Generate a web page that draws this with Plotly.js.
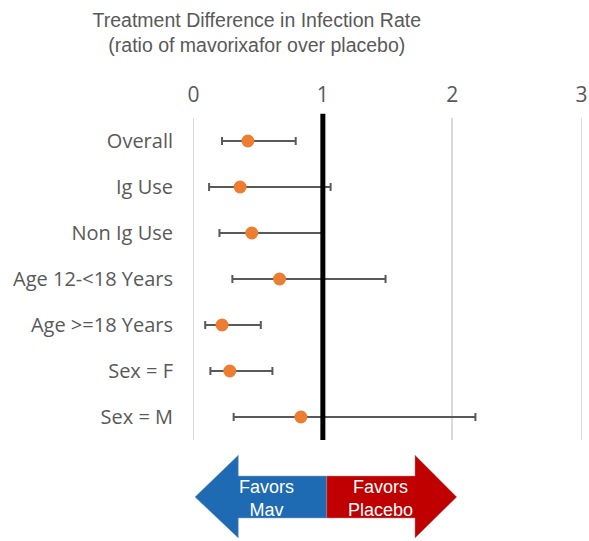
<!DOCTYPE html>
<html>
<head>
<meta charset="utf-8">
<script src="https://cdn.plot.ly/plotly-3.0.1.min.js"></script>
<style>html,body{margin:0;padding:0;background:#fff;}</style>
</head>
<body>
<div id="chart" style="width:589px;height:541px;"></div>
<script>
const categories = ["Overall", "Ig Use", "Non Ig Use", "Age 12-<18 Years", "Age >=18 Years", "Sex = F", "Sex = M"];
const ratio = [0.42, 0.36, 0.45, 0.665, 0.22, 0.28, 0.83];
const lowerCI = [0.22, 0.12, 0.20, 0.30, 0.09, 0.13, 0.31];
const upperCI = [0.79, 1.06, 1.00, 1.485, 0.52, 0.61, 2.18];
const xTicks = [0, 1, 2, 3];
const referenceValue = 1;

const errPlus = ratio.map((v, i) => upperCI[i] - v);
const errMinus = ratio.map((v, i) => v - lowerCI[i]);

const trace = {
  type: "scatter",
  mode: "markers",
  x: ratio,
  y: categories,
  marker: {color: "#ED7D31", size: 13},
  error_x: {
    type: "data", symmetric: false,
    array: errPlus, arrayminus: errMinus,
    color: "#595959", thickness: 2, width: 4
  },
  hoverinfo: "x+y",
  showlegend: false
};

// plot area spans x range [-0.02, 3.02]; arrow geometry in paper coords
function px2paperX(px) { return (px - 191) / 393; }
const yHT = -0.047, yBT = -0.112, yC = -0.177, yBB = -0.242, yHB = -0.304;
const xLT = px2paperX(195), xLB = px2paperX(238.3), xS = px2paperX(326.7), xRB = px2paperX(415), xRT = px2paperX(456.7);
const bluePath = `M ${xLT},${yC} L ${xLB},${yHT} L ${xLB},${yBT} L ${xS},${yBT} L ${xS},${yBB} L ${xLB},${yBB} L ${xLB},${yHB} Z`;
const redPath = `M ${xRT},${yC} L ${xRB},${yHT} L ${xRB},${yBT} L ${xS},${yBT} L ${xS},${yBB} L ${xRB},${yBB} L ${xRB},${yHB} Z`;

const layout = {
  width: 589, height: 541,
  margin: {l: 191, r: 5, t: 118, b: 101},
  paper_bgcolor: "#ffffff",
  plot_bgcolor: "#ffffff",
  title: {
    text: "Treatment Difference in Infection Rate<br>(ratio of mavorixafor over placebo)",
    x: 0.436, xref: "container", xanchor: "center",
    y: 0.951, yref: "container", yanchor: "middle",
    font: {family: "Liberation Sans, Arial, sans-serif", size: 19.5, color: "#595959"}
  },
  xaxis: {
    side: "top",
    range: [-0.02, 3.02],
    tickvals: xTicks,
    ticktext: xTicks.map(String),
    showgrid: true, gridcolor: "#d9d9d9", gridwidth: 1.5,
    zeroline: false, showline: false,
    ticks: "", ticklabelstandoff: 11,
    tickfont: {family: "Open Sans, sans-serif", size: 21, color: "#595959"},
    fixedrange: true
  },
  yaxis: {
    type: "category",
    categoryorder: "array", categoryarray: categories,
    autorange: false, range: [6.5, -0.5],
    showgrid: false, zeroline: false, showline: false,
    ticks: "", ticklabelstandoff: 17,
    tickfont: {family: "Open Sans, sans-serif", size: 20, color: "#595959"},
    fixedrange: true
  },
  shapes: [
    {type: "line", xref: "x", yref: "paper", x0: referenceValue, x1: referenceValue, y0: 0, y1: 1.013,
     line: {color: "#000000", width: 5}, layer: "above"},
    {type: "path", xref: "paper", yref: "paper", path: bluePath, fillcolor: "#1f6bb3", line: {color: "#8a9fb5", width: 0.5}},
    {type: "path", xref: "paper", yref: "paper", path: redPath, fillcolor: "#c00000", line: {color: "#b08080", width: 0.5}}
  ],
  annotations: [
    {xref: "paper", yref: "paper", x: px2paperX(266.7), y: -0.183, xanchor: "center", yanchor: "middle",
     text: "Favors<br>Mav", showarrow: false,
     font: {family: "Liberation Sans, Arial, sans-serif", size: 18, color: "#ffffff"}, align: "center"},
    {xref: "paper", yref: "paper", x: px2paperX(380), y: -0.183, xanchor: "center", yanchor: "middle",
     text: "Favors<br>Placebo", showarrow: false,
     font: {family: "Liberation Sans, Arial, sans-serif", size: 18, color: "#ffffff"}, align: "center"}
  ]
};

Plotly.newPlot("chart", [trace], layout, {displayModeBar: false, staticPlot: true});
</script>
</body>
</html>
